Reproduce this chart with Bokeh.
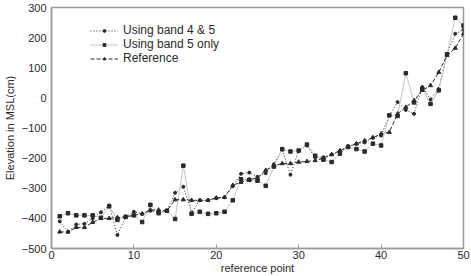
from bokeh.plotting import figure
from bokeh.models import Range1d, FixedTicker
from bokeh.embed import file_html
from bokeh.resources import INLINE

# reference point index
points = list(range(1, 51))

# elevation in MSL (cm), derived using bands 4 and 5
band45 = [-410, -445, -420, -418, -400, -380, -357, -455, -395, -378,
          -385, -375, -380, -375, -315, -295, -380, -340, -340, -333,
          -330, -293, -252, -248, -262, -250, -220, -172, -255, -175,
          -158, -198, -197, -188, -178, -160, -153, -148, -132, -125,
          -58, -14, -40, -53, 36, -5, 30, 146, 213, 226]

# elevation in MSL (cm), derived using band 5 only
band5 = [-393, -383, -390, -390, -390, -398, -360, -405, -395, -390,
         -412, -355, -383, -375, -402, -225, -385, -378, -385, -383,
         -378, -340, -270, -272, -275, -292, -228, -170, -178, -175,
         -155, -192, -205, -213, -185, -163, -170, -178, -152, -158,
         -58, -60, 82, -15, 30, -20, 25, 145, 266, 240]

# surveyed reference elevation (cm)
reference = [-445, -445, -430, -430, -413, -400, -400, -397, -395, -390,
             -385, -372, -372, -375, -338, -338, -340, -340, -340, -332,
             -330, -290, -280, -272, -265, -240, -225, -218, -218, -213,
             -211, -208, -200, -188, -175, -163, -152, -142, -132, -119,
             -114, -53, -31, -9, 25, 41, 85, 141, 165, 213]

x_ticks = [0, 10, 20, 30, 40, 50]
y_ticks = [-500, -400, -300, -200, -100, 0, 100, 200, 300]

FONT = "Liberation Sans"
DARK = "#2a2a2a"

p = figure(width=471, height=276, output_backend="svg", toolbar_location=None,
           x_range=Range1d(0, 50), y_range=Range1d(-500, 300))
p.min_border_left = 48
p.min_border_right = 8
p.min_border_top = 7
p.min_border_bottom = 26
p.background_fill_color = "white"
p.border_fill_color = "white"
p.outline_line_color = "#9a9a9a"
p.outline_line_width = 1.5
p.xgrid.visible = False
p.ygrid.visible = False

p.xaxis.ticker = FixedTicker(ticks=x_ticks)
p.yaxis.ticker = FixedTicker(ticks=y_ticks)
for ax in (p.xaxis[0], p.yaxis[0]):
    ax.axis_line_color = "#9a9a9a"
    ax.axis_line_width = 1.5
    ax.major_label_text_font = FONT
    ax.major_label_text_font_size = "11px"
    ax.major_label_text_color = DARK
    ax.minor_tick_line_color = None
    ax.major_tick_out = 0
    ax.axis_label_text_font = FONT
    ax.axis_label_text_font_size = "11px"
    ax.axis_label_text_font_style = "normal"
    ax.axis_label_text_color = DARK

p.xaxis.major_tick_in = 4
p.xaxis.major_tick_line_color = "#9a9a9a"
p.xaxis.major_label_standoff = 2
p.xaxis.axis_label = "reference point"
p.xaxis.axis_label_standoff = 0

p.yaxis.major_tick_in = 0
p.yaxis.major_tick_line_color = None
p.yaxis.major_label_standoff = 5
p.yaxis.axis_label = "Elevation in MSL(cm)"
p.yaxis.axis_label_standoff = 3

lab1 = "Using band 4 & 5"
lab2 = "Using band 5 only"
lab3 = "Reference"

p.line(points, band45, line_color=DARK, line_width=1, line_dash="1 2",
       legend_label=lab1)
p.scatter(points, band45, marker="circle", size=3, fill_color=DARK,
          line_color=DARK, legend_label=lab1)

p.line(points, band5, line_color="#c4c4c4", line_width=1, legend_label=lab2)
p.scatter(points, band5, marker="square", size=3.5, fill_color=DARK,
          line_color=DARK, legend_label=lab2)

p.line(points, reference, line_color=DARK, line_width=1, line_dash="4 2",
       legend_label=lab3)
p.scatter(points, reference, marker="triangle", size=4, fill_color=DARK,
          line_color=DARK, legend_label=lab3)

lg = p.legend[0]
lg.location = (39, 183)
lg.padding = 0
lg.margin = 0
lg.spacing = 0
lg.glyph_width = 28
lg.glyph_height = 7
lg.label_height = 12
lg.label_standoff = 5
lg.label_text_font = FONT
lg.label_text_font_size = "12px"
lg.label_text_color = DARK
lg.border_line_color = None
lg.background_fill_alpha = 0

open("out.html", "w").write(file_html(p, INLINE))
